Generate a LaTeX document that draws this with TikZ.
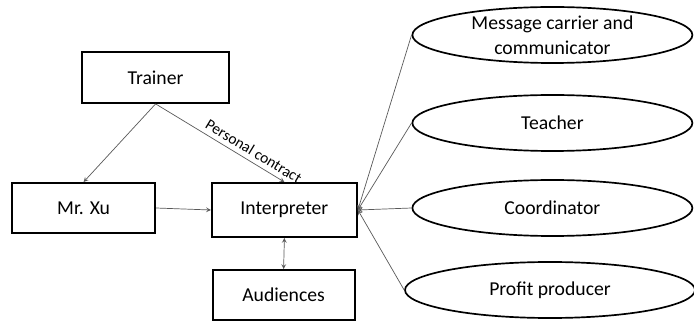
\documentclass[tikz,border=0pt]{standalone}
\usepackage{fontspec}
\setmainfont{Carlito}
\usetikzlibrary{shapes,positioning}

\begin{document}
\begin{tikzpicture}[
        box/.style={draw,line width=1.4pt,minimum width=3.6cm,minimum height=1.3cm,font=\fontsize{14}{17}\selectfont},
        role/.style={draw,ellipse,line width=1.2pt,minimum width=7cm,minimum height=1.4cm,inner sep=0pt,align=center,font=\fontsize{14}{17.5}\selectfont},
        link/.style={draw=black!65,line width=0.5pt,-stealth}
    ]
    \useasboundingbox (0,0) rectangle (17.35,8.025);
    \node[box,minimum width=3.675cm,minimum height=1.275cm] (trainer) at (3.89,6.09) {Trainer};
    \node[box,minimum width=3.575cm,minimum height=1.25cm] (xu) at (2.09,2.825) {Mr. Xu};
    \node[box,minimum width=3.625cm,minimum height=1.35cm] (interp) at (7.11,2.775) {Interpreter};
    \node[box,minimum width=3.55cm,minimum height=1.25cm] (aud) at (7.09,0.65) {Audiences};
    \node[role] (msg) at (13.81,7.15) {Message carrier and\\communicator};
    \node[role] (teacher) at (13.81,4.95) {Teacher};
    \node[role] (coord) at (13.81,2.825) {Coordinator};
    \node[role,minimum width=7.25cm] (profit) at (13.75,0.775) {Profit producer};
    \draw[link] (trainer.south) -- (xu.north);
    \draw[link] (trainer.south) -- node[pos=0.72,above,sloped,font=\fontsize{11}{13}\selectfont] {Personal contract} (interp.north);
    \draw[link] (xu.east) -- (interp.west);
    \draw[link,stealth-stealth] (interp.south) -- (aud.north);
    \draw[link] (msg.west) -- (interp.east);
    \draw[link] (teacher.west) -- (interp.east);
    \draw[link] (coord.west) -- (interp.east);
    \draw[link] (profit.west) -- (interp.east);
\end{tikzpicture}
\end{document}
